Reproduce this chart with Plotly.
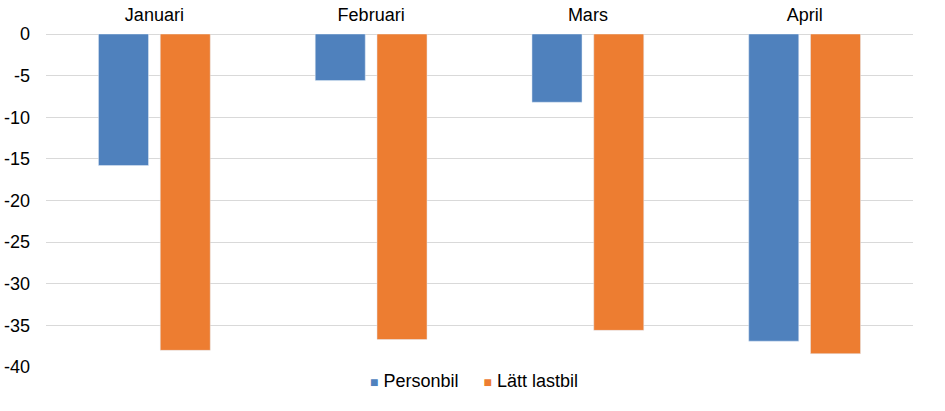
import plotly.graph_objects as go

months = ["Januari", "Februari", "Mars", "April"]
personbil = [-15.8, -5.6, -8.2, -36.9]
latt_lastbil = [-38.0, -36.7, -35.6, -38.4]
y_ticks = [0, -5, -10, -15, -20, -25, -30, -35, -40]
y_ticktext = ["0", "-5", "-10", "-15", "-20", "-25", "-30", "-35", "-40"]
series_names = ["Personbil", "Lätt lastbil"]
colors = ["#4F81BD", "#ED7D31"]

fig = go.Figure()
fig.add_trace(go.Bar(x=months, y=personbil, name=series_names[0], marker_color=colors[0]))
fig.add_trace(go.Bar(x=months, y=latt_lastbil, name=series_names[1], marker_color=colors[1]))

legend_text = "&nbsp;&nbsp;&nbsp;&nbsp;&nbsp;".join(
    f"<span style='color:{c};font-size:14px'>■</span> {n}" for n, c in zip(series_names, colors)
)

fig.update_layout(
    width=945, height=411,
    margin=dict(l=46, r=32, t=34, b=44),
    paper_bgcolor="white", plot_bgcolor="white",
    font=dict(family="Liberation Sans, Arial, sans-serif", size=18, color="#000000"),
    barmode="group", bargap=0.43, bargroupgap=0.19,
    showlegend=False,
    annotations=[dict(text=legend_text, xref="paper", yref="paper", x=0.494, y=-0.042,
                      xanchor="center", yanchor="middle", showarrow=False,
                      font=dict(size=18, color="#000000"))],
)
fig.update_xaxes(side="top", showgrid=False, showline=False, ticks="", automargin=False,
                 tickfont=dict(size=18), ticklabelstandoff=8)
fig.update_yaxes(range=[-40, 0], tickvals=y_ticks, ticktext=y_ticktext, automargin=False,
                 showgrid=True, gridcolor="#D9D9D9", gridwidth=1,
                 zeroline=True, zerolinecolor="#D9D9D9", zerolinewidth=1,
                 showline=False, ticks="", tickfont=dict(size=18), ticklabelstandoff=15)

fig.write_html("out.html", config={"displayModeBar": False},
               post_script="document.body.style.margin='0';")
